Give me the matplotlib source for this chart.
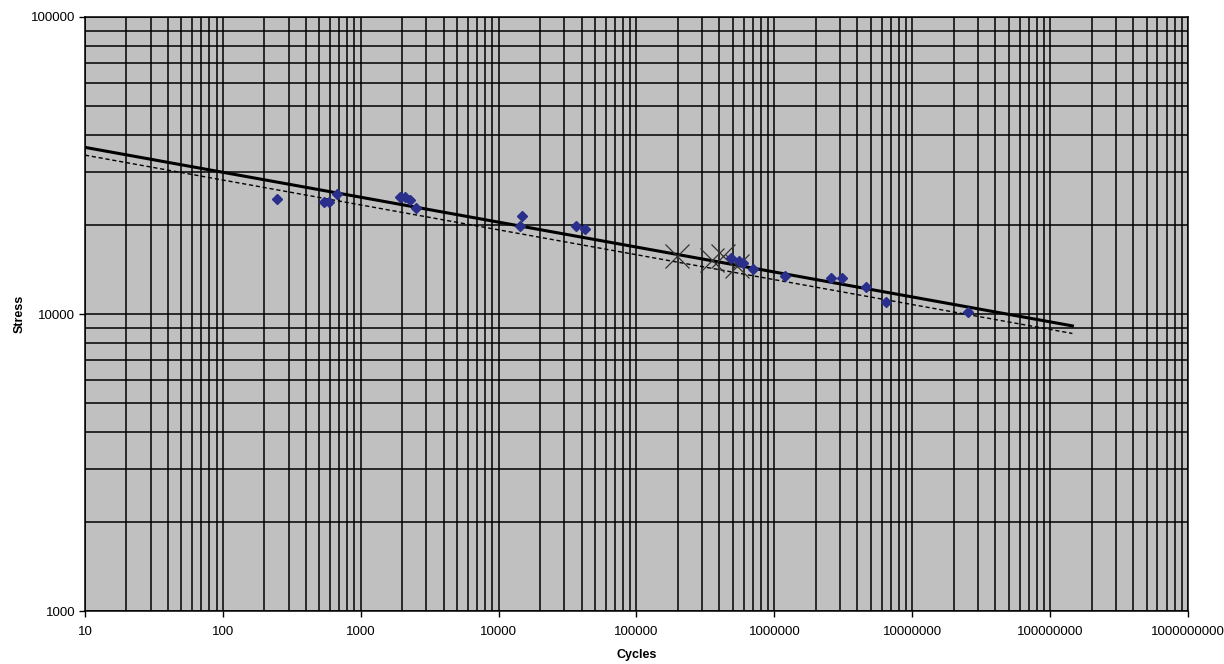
import matplotlib
matplotlib.use("Agg")
import matplotlib.pyplot as plt
import numpy as np
from matplotlib.ticker import FixedLocator, LogLocator, NullFormatter, FuncFormatter

plt.rcParams["font.family"] = ["Liberation Sans", "DejaVu Sans"]

# test data (blue diamonds)
cycles = [246, 542, 586, 670, 1918, 2084, 2265, 2506, 14760, 14190, 36560, 42660,
          485000, 551000, 589000, 696000, 1202000, 2576000, 3076000, 4614000,
          6440000, 25180000]
stress = [24400, 23900, 23900, 25300, 24700, 24700, 24200, 22700, 21400, 19800, 19800, 19400,
          15400, 15070, 14820, 14140, 13440, 13190, 13190, 12360,
          10990, 10190]

# run-outs / other series (x markers)
star_cycles = [198000, 355500, 426600, 539000]
star_stress = [15660, 15200, 15660, 14530]

# design curve (solid) and trendline (dashed), end points
line_cycles = [10, 145000000]
solid_stress = [36400, 9120]
dashed_stress = [34270, 8600]

fig = plt.figure(figsize=(12.24, 6.64), dpi=100)
ax = fig.add_axes([0.0694, 0.0798, 0.9012, 0.8946])
ax.set_facecolor("#C0C0C0")
ax.set_xscale("log")
ax.set_yscale("log")
ax.set_xlim(10, 1e9)
ax.set_ylim(1000, 100000)

ax.grid(True, which="both", color="black", linewidth=1.1)
ax.set_axisbelow(True)

ax.plot(line_cycles, solid_stress, color="black", linewidth=2.2, zorder=3)
ax.plot(line_cycles, dashed_stress, color="black", linewidth=1.0, linestyle=(0, (3, 2)), zorder=3)
ax.plot(star_cycles, star_stress, linestyle="none", marker="x", markersize=17,
        markeredgewidth=0.9, color="#333333", zorder=4)
ax.plot(cycles, stress, linestyle="none", marker="D", markersize=5.5,
        color="#2B2F8C", zorder=5)

ax.xaxis.set_major_locator(FixedLocator([10.0 ** k for k in range(1, 10)]))
ax.yaxis.set_major_locator(FixedLocator([1e3, 1e4, 1e5]))
ax.xaxis.set_minor_locator(LogLocator(base=10, subs=np.arange(2, 10)))
ax.yaxis.set_minor_locator(LogLocator(base=10, subs=np.arange(2, 10)))
fmt = FuncFormatter(lambda v, p: "%d" % round(v))
ax.xaxis.set_major_formatter(fmt)
ax.yaxis.set_major_formatter(fmt)
ax.xaxis.set_minor_formatter(NullFormatter())
ax.yaxis.set_minor_formatter(NullFormatter())
ax.tick_params(which="major", length=4, width=1, labelsize=9.5, color="black")
ax.tick_params(which="minor", length=0)
ax.tick_params(axis="x", pad=7)
ax.tick_params(axis="y", pad=3)

for s in ax.spines.values():
    s.set_color("black")
    s.set_linewidth(1.1)

ax.set_xlabel("Cycles", fontsize=9, fontweight="bold", labelpad=8)
ax.set_ylabel("Stress", fontsize=9, fontweight="bold", labelpad=4)

fig.savefig("out.png", dpi=100)
